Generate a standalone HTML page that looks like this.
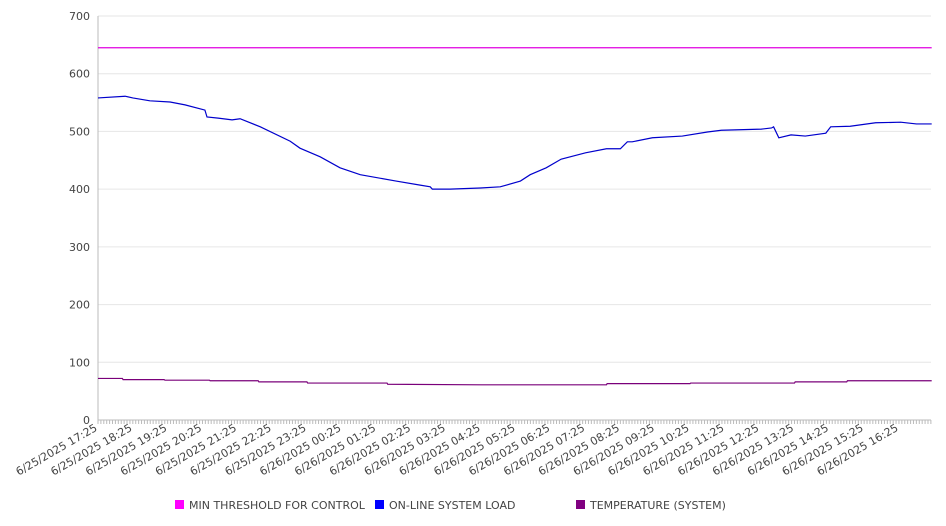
<!DOCTYPE html>
<html><head><meta charset="utf-8"><style>
html,body{margin:0;padding:0;background:#fff;width:946px;height:526px;overflow:hidden}
svg{display:block;font-family:"DejaVu Sans","Liberation Sans",sans-serif}
</style></head><body>
<svg id="chart" width="946" height="526"></svg>
<script>
const yTicks=[0,100,200,300,400,500,600,700];
const xLabels=["6/25/2025 17:25","6/25/2025 18:25","6/25/2025 19:25","6/25/2025 20:25","6/25/2025 21:25","6/25/2025 22:25","6/25/2025 23:25","6/26/2025 00:25","6/26/2025 01:25","6/26/2025 02:25","6/26/2025 03:25","6/26/2025 04:25","6/26/2025 05:25","6/26/2025 06:25","6/26/2025 07:25","6/26/2025 08:25","6/26/2025 09:25","6/26/2025 10:25","6/26/2025 11:25","6/26/2025 12:25","6/26/2025 13:25","6/26/2025 14:25","6/26/2025 15:25","6/26/2025 16:25"];
const loadHours=[0,0.78,1.0,1.49,2.07,2.5,3.07,3.13,3.45,3.85,4.08,4.66,5.52,5.8,6.38,6.95,7.53,8.56,9.25,9.54,9.6,10.11,10.98,11.55,12.13,12.41,12.87,13.3,14.0,14.6,15.0,15.2,15.34,15.92,16.78,17.5,17.9,19.05,19.34,19.4,19.55,19.9,20.31,20.9,21.04,21.6,22.33,23.05,23.5,23.94];
const loadValues=[558,561,558,553,551,546,537,525,523,520,522,508,483,471,456,437,425,414,407,404,400,400,402,404,414,425,437,452,463,470,470,482,482,489,492,499,502,504,506,508,489,494,492,497,508,509,515,516,513,513];
const threshHours=[0,23.94];
const threshValues=[645,645];
const tempHours=[0,0.7,0.72,1.9,1.92,3.2,3.22,4.6,4.62,6.0,6.02,8.3,8.32,11.0,14.6,14.62,17.0,17.02,20.0,20.02,21.5,21.52,23.94];
const tempValues=[72,72,70,70,69,69,68,68,66,66,64,64,62,61,61,63,63,64,64,66,66,68,68];

const svg=document.getElementById('chart');
const NS='http://www.w3.org/2000/svg';
const X0=98,X1=931,Y0=420,Y1=16,HOURS=23.92;
function xs(h){return X0+h*(X1-X0)/HOURS;}
function ys(v){return Y0-v*(Y0-Y1)/700;}
function mk(t,a){const e=document.createElementNS(NS,t);for(const k in a)e.setAttribute(k,a[k]);svg.appendChild(e);return e;}

yTicks.forEach(v=>{
  const g=mk('line',{x1:X0,x2:X1,y1:ys(v),y2:ys(v),stroke:v===0?'#bbb':'#e6e6e6','stroke-width':1});
  
  
  const t=mk('text',{x:X0-8,y:ys(v)+4,'text-anchor':'end','font-size':11,fill:'#444'});
  t.textContent=v;
  
  
});
const ax=mk('line',{x1:X0,x2:X0,y1:Y1,y2:Y0,stroke:'#bbb'});


for(let m=0;m<=HOURS*60;m+=5){
  const tk=mk('line',{x1:xs(m/60),x2:xs(m/60),y1:Y0,y2:Y0+4,stroke:'#bbb'});
  
  
}
xLabels.forEach((l,i)=>{
  const x=xs(i),y=Y0+10;
  const t=mk('text',{x:x,y:y,'text-anchor':'end','font-size':11,fill:'#444',transform:`rotate(-30 ${x} ${y})`});
  t.textContent=l;
  
  
});
function series(h,v,c,name){
  const p=mk('polyline',{points:h.map((hh,i)=>xs(hh)+','+ys(v[i])).join(' '),fill:'none',stroke:c,'stroke-width':1.2});
  
  
}
series(threshHours,threshValues,'#e000e0','min-threshold-line');
series(loadHours,loadValues,'#0000cc','online-system-load-line');
series(tempHours,tempValues,'#7a007a','temperature-line');

const legend=[['#ff00ff','MIN THRESHOLD FOR CONTROL',175,'legend-min-threshold'],['#0000ff','ON-LINE SYSTEM LOAD',375,'legend-online-load'],['#800080','TEMPERATURE (SYSTEM)',576,'legend-temperature']];
legend.forEach(([c,l,x,n])=>{
  const r=mk('rect',{x:x,y:500,width:9,height:9,fill:c});
  
  
  const t=mk('text',{x:x+14,y:509,'font-size':11,fill:'#444'});
  t.textContent=l;
  
  
});
</script>
</body></html>
